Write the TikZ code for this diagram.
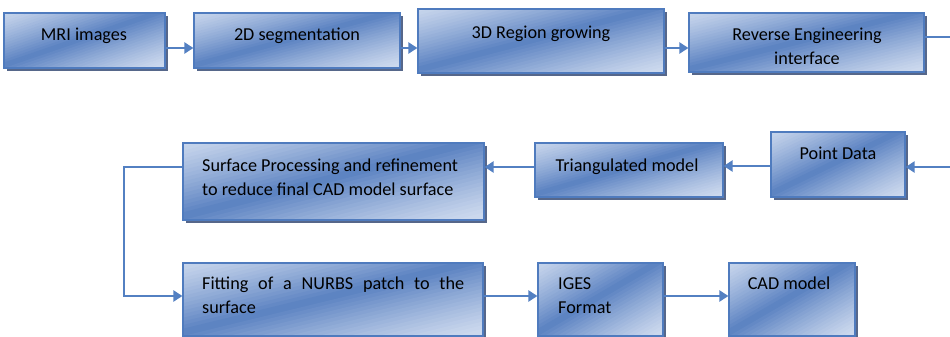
\documentclass[tikz,border=0pt]{standalone}
\usepackage{fontspec}
\setmainfont{Carlito}
\usetikzlibrary{arrows.meta,shadows}
\definecolor{boxdark}{HTML}{5A81C1}
\definecolor{boxlight}{HTML}{CCD9EE}
\definecolor{boxline}{HTML}{4F7BBE}
\definecolor{shadowc}{HTML}{56678A}
\definecolor{arrowc}{HTML}{5380C2}
\newcommand\gradfill{%
  \pgfpointdiff{\pgfpointanchor{path picture bounding box}{south west}}{\pgfpointanchor{path picture bounding box}{north east}}%
  \pgfgetlastxy{\gbw}{\gbh}%
  \begin{scope}[shift={(path picture bounding box.center)}]
  \foreach \i in {0,...,47}{%
    \pgfmathsetmacro\gsa{-1.2+0.05*\i}%
    \pgfmathsetmacro\gsb{\gsa+0.06}%
    \pgfmathsetmacro\gmix{100*max(0,1-abs(\gsa+0.025+0.05)/1.0)^1.2}%
    \fill[boxdark!\gmix!boxlight]
      ({-0.6*\gbw},{\gbh*(-0.6-\gsa)}) -- ({0.6*\gbw},{\gbh*(0.6-\gsa)}) --
      ({0.6*\gbw},{\gbh*(0.6-\gsb)}) -- ({-0.6*\gbw},{\gbh*(-0.6-\gsb)}) -- cycle;
  }
  \end{scope}}
\tikzset{
  blockbox/.style={draw=boxline, line width=1.2pt, inner sep=0pt, fill=boxdark,
    path picture={\gradfill},
    drop shadow={shadow xshift=3pt, shadow yshift=-3pt, fill=shadowc, opacity=1}},
  lbl/.style={inner sep=0pt, font=\fontsize{18.2}{24}\selectfont, text=black},
  arr/.style={draw=arrowc, line width=2.2pt, -{Triangle[length=9pt,width=11pt]}},
  plain/.style={draw=arrowc, line width=2.2pt}
}
\begin{document}
\begin{tikzpicture}[x=1pt,y=-1pt]
\useasboundingbox[fill=white] (0,0) rectangle (950,337);
% boxes
\node[blockbox, minimum width=161pt, minimum height=55pt] (b1) at (84.5,40.5) {};
\node[blockbox, minimum width=206pt, minimum height=55pt] (b2) at (297,40.5) {};
\node[blockbox, minimum width=246pt, minimum height=64pt] (b3) at (541,41) {};
\node[blockbox, minimum width=235pt, minimum height=59pt] (b4) at (806.5,42.5) {};
\node[blockbox, minimum width=301pt, minimum height=77pt] (b5) at (333.5,181.5) {};
\node[blockbox, minimum width=188pt, minimum height=54pt] (b6) at (629,170) {};
\node[blockbox, minimum width=134pt, minimum height=65pt] (b7) at (838,164.5) {};
\node[blockbox, minimum width=300pt, minimum height=73pt] (b8) at (333,299.5) {};
\node[blockbox, minimum width=125pt, minimum height=73pt] (b9) at (600.5,299.5) {};
\node[blockbox, minimum width=126pt, minimum height=73pt] (b10) at (792,299.5) {};
% texts
\node[lbl, anchor=base] (t1) at (84,41) {MRI images};
\node[lbl, anchor=base] (t2) at (297,41) {2D segmentation};
\node[lbl, anchor=base] (t3) at (541,38) {3D Region growing};
\node[lbl, anchor=base] (t4a) at (807,41) {Reverse Engineering};
\begin{scope}
\clip (690,50) rectangle (923,63.5);
\node[lbl, anchor=base] (t4b) at (807,64) {interface};
\end{scope}
\node[lbl, anchor=base west] (t5a) at (202,171) {Surface Processing and refinement};
\node[lbl, anchor=base west] (t5b) at (202,195) {to reduce final CAD model surface};
\node[lbl, anchor=base] (t6) at (627,171) {Triangulated model};
\node[lbl, anchor=base] (t7) at (838,159) {Point Data};
\node[lbl, anchor=base west] (t8a) at (202,289) {\makebox[262pt][s]{Fitting of a NURBS patch to the}};
\node[lbl, anchor=base west] (t8b) at (202,313) {surface};
\node[lbl, anchor=base west] (t9a) at (558,289) {IGES};
\node[lbl, anchor=base west] (t9b) at (558,313) {Format};
\node[lbl, anchor=base] (t10) at (789,289) {CAD model};
% free ends
\coordinate (out1) at (950,37);
\coordinate (in1) at (950,167);
\coordinate (bendA) at (124,167);
\coordinate (bendB) at (124,296);
% connectors
\draw[arr] ([yshift=-7.5pt]b1.east) -- ([yshift=-7.5pt]b2.west);
\draw[arr] ([yshift=-7.5pt]b2.east) -- (b3.west |- 0,48);
\draw[arr] (b3.east |- 0,48) -- (b4.west |- 0,48);
\draw[plain] (b4.east |- out1) -- (out1);
\draw[arr] (in1) -- (b7.east |- in1);
\draw[arr] (b7.west |- 0,166) -- (b6.east |- 0,166);
\draw[arr] (b6.west |- 0,167) -- (b5.east |- 0,167);
\draw[arr] (b5.west |- bendA) -- (bendA) -- (bendB) -- (b8.west |- bendB);
\draw[arr] (b8.east |- 0,296) -- (b9.west |- 0,296);
\draw[arr] (b9.east |- 0,296) -- (b10.west |- 0,296);
\end{tikzpicture}
\end{document}
